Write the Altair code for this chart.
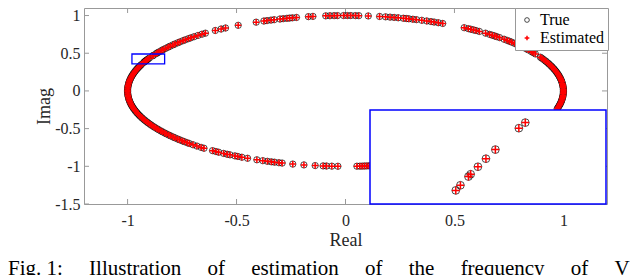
import altair as alt
import numpy as np
import pandas as pd

# ---------------- data ----------------
series = ["True", "Estimated"]

# angles (degrees) of the points on the unit circle
angles_right = [-13.8, -12.9, -12.1, -11.0, -10.2, -9.5, -8.4, -7.6, -6.9, -5.8, -5.0, -4.1,
                -3.3, -2.2, -1.4, -0.5, 0.6, 1.3, 2.4, 3.1, 4.2, 5.0, 5.9, 7.1, 7.8, 8.9, 9.6,
                10.7, 11.5, 12.6, 13.3, 14.4, 15.2, 16.3, 17.0, 18.1, 18.9, 19.8, 20.9, 21.6,
                22.8, 23.5, 24.6, 25.7, 26.6]
angles_upper = [29.4, 30.6, 31.5, 33.0, 34.1, 37.0, 38.2, 39.1, 40.3, 41.2, 42.1, 43.3, 45.0,
                46.1, 46.8, 47.7, 48.6, 50.0, 52.1, 53.2, 54.0, 54.9, 55.7, 57.0, 63.5, 64.8,
                66.0, 66.9, 68.1, 69.5, 71.0, 72.0, 73.1, 73.8, 74.6, 76.0, 77.1, 78.2, 79.4,
                81.0, 84.0, 86.5, 87.4, 88.6, 89.5, 90.5, 92.1, 93.0, 94.1, 95.2, 98.6, 99.8,
                103.0, 104.1, 104.9, 105.6, 106.6, 107.5, 109.1, 110.0, 111.1, 112.0, 114.2,
                119.5, 123.4, 124.8, 126.7, 130.0, 131.2, 132.6, 134.0]
angles_left = [135.2, 136.1, 137.3, 138.2, 139.4, 140.3, 141.5, 142.4, 143.6, 144.5, 145.7,
               146.8, 147.6, 148.9, 149.7, 150.3, 151.8, 152.3, 154.2, 155.0, 155.7, 156.35,
               156.55, 157.3, 157.74, 159.4, 160.2, 161.0, 161.9, 162.6, 163.4, 164.5, 165.3,
               166.4, 167.2, 168.3, 169.1, 170.2, 171.0, 172.1, 172.9, 174.0, 174.8, 175.9,
               176.7, 177.8, 178.6, 179.7, 180.5, 181.6, 182.4, 183.5, 184.3, 185.4, 186.2,
               187.3, 188.1, 189.2, 190.0, 191.1, 191.9, 193.0, 193.8, 194.9, 195.7, 196.8,
               197.6, 198.7, 199.5, 200.6, 201.4, 202.5, 203.3, 204.4, 205.2, 206.3, 207.1,
               208.2, 209.0, 210.1, 210.9, 212.0, 212.8, 213.9, 214.7, 215.8, 216.6, 217.7,
               218.5, 219.6, 220.4, 221.5, 222.3, 223.4, 224.2]
angles_lower = [225.6, 227.0, 228.5, 229.5, 232.4, 233.5, 234.4, 236.0, 237.1, 238.0, 239.5,
                240.4, 241.6, 243.3, 246.0, 247.7, 249.0, 250.1, 251.0, 252.2, 253.1, 256.0,
                259.0, 262.0, 264.1, 265.0, 266.4, 268.0, 273.0, 273.8, 274.4, 275.0, 275.6,
                276.2, 276.6]

true_angles = angles_right + angles_upper + angles_left + angles_lower
est_angles = list(true_angles)

x_ticks = [-1, -0.5, 0, 0.5, 1]
y_ticks = [-1.5, -1, -0.5, 0, 0.5, 1]
x_domain = [-1.2, 1.2]
y_domain = [-1.5, 1.1]
box_x = [-0.98, -0.83]   # zoomed region
box_y = [0.36, 0.49]
G = "\u00a0" * 5
caption = "Fig.\u00a01:" + G + "Illustration" + G + "of" + G + "estimation" + G + "of" + G + \
          "the" + G + "frequency" + G + "of" + G + "V"

# ---------------- build tables ----------------
rows = []
for name, angs in (("True", true_angles), ("Estimated", est_angles)):
    for a in angs:
        t = np.deg2rad(a)
        rows.append({"series": name, "x": float(np.cos(t)), "y": float(np.sin(t))})
df = pd.DataFrame(rows)
xt = pd.DataFrame({"t": x_ticks})
yt = pd.DataFrame({"t": y_ticks})
box = pd.DataFrame({"x0": [box_x[0]], "x1": [box_x[1]], "y0": [box_y[0]], "y1": [box_y[1]]})

W, H = 523, 196
F = "Liberation Serif"
AX = "#999999"
TXT = "#262626"
PLUS = "M-1,0L1,0M0,-1L0,1"

xs = alt.Scale(domain=x_domain, nice=False, zero=False)
ys = alt.Scale(domain=y_domain, nice=False, zero=False)
ixs = alt.Scale(domain=box_x, range=[286, W - 1], nice=False, zero=False)
iys = alt.Scale(domain=box_y, range=[H, 102], nice=False, zero=False)
shape_scale = alt.Scale(domain=series, range=["circle", PLUS])
color_scale = alt.Scale(domain=series, range=["#000000", "#ff0000"])
sw_scale = alt.Scale(domain=series, range=[0.7, 1.5])

x_axis = alt.Axis(values=x_ticks, ticks=False, domain=False, grid=False,
                  labelExpr="'' + datum.value", labelFont=F, labelFontSize=16,
                  labelColor=TXT, labelPadding=8, labelFlush=False,
                  titleFont=F, titleFontSize=18, titleFontWeight="normal",
                  titleColor=TXT, titlePadding=3)
y_axis = alt.Axis(values=y_ticks, ticks=False, domain=False, grid=False,
                  labelExpr="'' + datum.value", labelFont=F, labelFontSize=16,
                  labelColor=TXT, labelPadding=4, labelFlush=False,
                  titleFont=F, titleFontSize=18, titleFontWeight="normal",
                  titleColor=TXT, titlePadding=1)
legend = alt.Legend(orient="none", legendX=431, legendY=0, title=None,
                    strokeColor=AX, fillColor="white", padding=4, cornerRadius=0,
                    labelFont=F, labelFontSize=16, labelColor="#000000",
                    symbolSize=22, symbolStrokeWidth=1, labelOffset=5, rowPadding=2)

# ---------------- main axes ----------------
tick_b = alt.Chart(xt).mark_rule(color=AX).encode(
    x=alt.X("t:Q", scale=xs, axis=None), y=alt.value(H), y2=alt.value(H - 5))
tick_t = alt.Chart(xt).mark_rule(color=AX).encode(
    x=alt.X("t:Q", scale=xs, axis=None), y=alt.value(0), y2=alt.value(5))
tick_l = alt.Chart(yt).mark_rule(color=AX).encode(
    y=alt.Y("t:Q", scale=ys, axis=None), x=alt.value(0), x2=alt.value(5))
tick_r = alt.Chart(yt).mark_rule(color=AX).encode(
    y=alt.Y("t:Q", scale=ys, axis=None), x=alt.value(W), x2=alt.value(W - 5))

pts = alt.Chart(df).mark_point(filled=False, size=40, opacity=1).encode(
    x=alt.X("x:Q", scale=xs, axis=x_axis, title="Real"),
    y=alt.Y("y:Q", scale=ys, axis=y_axis, title="Imag"),
    shape=alt.Shape("series:N", scale=shape_scale, legend=legend),
    color=alt.Color("series:N", scale=color_scale, legend=legend),
    strokeWidth=alt.StrokeWidth("series:N", scale=sw_scale, legend=None),
)

small_box = alt.Chart(box).mark_rect(fillOpacity=0, stroke="#0000ff", strokeWidth=1.3).encode(
    x=alt.X("x0:Q", scale=xs, axis=None), x2="x1:Q",
    y=alt.Y("y0:Q", scale=ys, axis=None), y2="y1:Q")

cap = alt.Chart(pd.DataFrame({"t": [caption]})).mark_text(
    align="left", baseline="alphabetic", font=F, fontSize=21, color="#000000").encode(
    x=alt.value(-76), y=alt.value(267), text="t:N")

# ---------------- inset ----------------
inset_bg = alt.Chart(box).mark_rect(fill="white", stroke="#0000ff", strokeWidth=1.5).encode(
    x=alt.X("x0:Q", scale=ixs, axis=None), x2="x1:Q",
    y=alt.Y("y0:Q", scale=iys, axis=None), y2="y1:Q")

inset_pts = alt.Chart(df).transform_filter(
    alt.FieldRangePredicate(field="x", range=box_x)
).transform_filter(
    alt.FieldRangePredicate(field="y", range=box_y)
).mark_point(filled=False, size=60, opacity=1, clip=True).encode(
    x=alt.X("x:Q", scale=ixs, axis=None),
    y=alt.Y("y:Q", scale=iys, axis=None),
    shape=alt.Shape("series:N", scale=shape_scale, legend=None),
    color=alt.Color("series:N", scale=color_scale, legend=None),
    strokeWidth=alt.StrokeWidth("series:N", scale=alt.Scale(domain=series, range=[0.9, 1.1]), legend=None),
)

chart = alt.layer(
    tick_b, tick_t, tick_l, tick_r, pts, small_box, cap, inset_bg, inset_pts
).resolve_scale(
    x="independent", y="independent"
).properties(
    width=W, height=H,
    padding={"left": 76, "top": 0, "right": 25, "bottom": 75},
    autosize=alt.AutoSizeParams(type="none"),
    background="white",
).configure_view(stroke=AX, strokeWidth=1)

chart.save("out.html", embed_options={"renderer": "svg", "actions": False})
